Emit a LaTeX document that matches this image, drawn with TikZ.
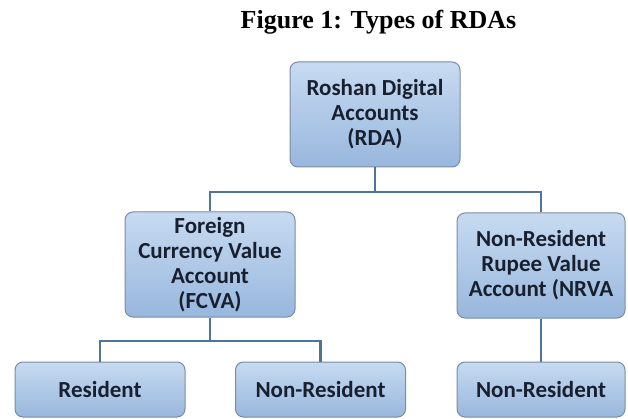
\documentclass[tikz,border=0pt]{standalone}
\usepackage{fontspec}
\setmainfont{Liberation Serif}
\newfontfamily\boxfont{Carlito}
\usepackage{xcolor}
\definecolor{boxtop}{HTML}{C7DAF1}
\definecolor{boxbot}{HTML}{98B7DD}
\definecolor{boxedge}{HTML}{7A8CA5}
\definecolor{linkblue}{HTML}{4F7498}
\definecolor{boxtext}{HTML}{18202F}
\tikzset{
  rdabox/.style={draw=boxedge, line width=1pt, rounded corners=8pt,
    top color=boxtop, bottom color=boxbot, minimum width=170pt,
    align=center, text=boxtext, inner sep=0pt,
    font=\boxfont\bfseries\fontsize{23}{25}\selectfont},
  link/.style={draw=linkblue, line width=2.5pt}
}
\begin{document}
\begin{tikzpicture}[x=1pt,y=-1pt]
   \useasboundingbox (0,0) rectangle (628,419);
   \node[anchor=base, font=\bfseries\fontsize{26}{28}\selectfont] (title) at (378.5,29) {Figure 1: Types of RDAs};
   % top level
   \node[rdabox, minimum height=105pt] (rda) at (375,114.5) {Roshan Digital\\Accounts\\(RDA)};
   % second level
   \node[rdabox, minimum height=105pt] (fcva) at (210,264.5) {Foreign\\Currency Value\\Account\\(FCVA)};
   \node[rdabox, minimum width=168pt, minimum height=105pt] (nrva) at (541,265.5) {Non-Resident\\Rupee Value\\Account (NRVA};
   % third level
   \node[rdabox, minimum height=55pt] (res) at (100,389.5) {Resident};
   \node[rdabox, minimum height=55pt] (nonresa) at (320.5,389.5) {Non-Resident};
   \node[rdabox, minimum width=168pt, minimum height=55pt] (nonresb) at (541,389.5) {Non-Resident};
   % connectors
   \coordinate (busa) at (375,192);
   \coordinate (busb) at (210,341);
   \draw[link] (rda.south) -- (busa) -| (fcva.north);
   \draw[link] (busa) -| (nrva.north);
   \draw[link] (fcva.south) -- (busb) -| (res.north);
   \draw[link] (busb) -| (nonresa.north);
   \draw[link] (nrva.south) -- (nonresb.north);
\end{tikzpicture}
\end{document}
